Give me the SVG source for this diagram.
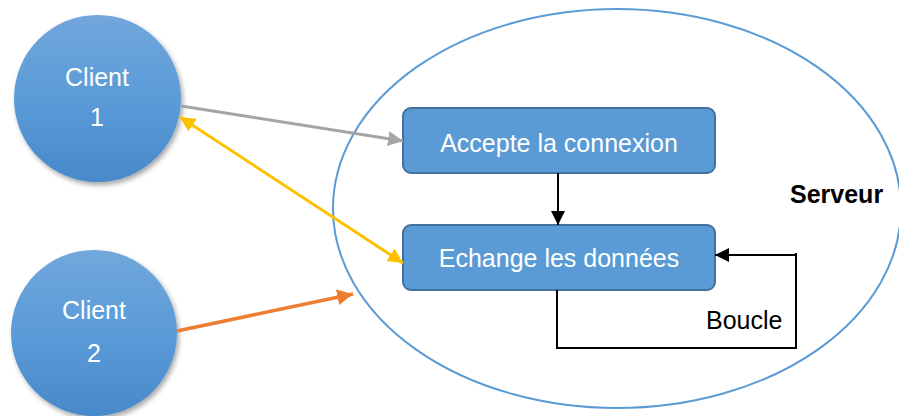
<svg xmlns="http://www.w3.org/2000/svg" width="899" height="416" viewBox="0 0 899 416">
  <style>
    text { font-family: "Liberation Sans", Arial, sans-serif; font-size: 25px; }
    .wt { fill: #ffffff; text-anchor: middle; }
    .bk { fill: #000000; }
    .client { fill: url(#cg); filter: url(#sh); }
    .box { fill: #5B9BD5; stroke: #41719C; stroke-width: 2; }
    .blk { fill: none; stroke: #000000; stroke-width: 2; }
  </style>
  <defs>
    <linearGradient id="cg" x1="0" y1="0" x2="0" y2="1">
      <stop offset="0" stop-color="#71A7DC"/>
      <stop offset="0.5" stop-color="#5B9BD8"/>
      <stop offset="1" stop-color="#4889C9"/>
    </linearGradient>
    <filter id="sh" x="-20%" y="-20%" width="140%" height="140%">
      <feDropShadow dx="2" dy="3" stdDeviation="2.5" flood-color="#000000" flood-opacity="0.35"/>
    </filter>
    <marker id="agray" viewBox="0 0 10 10" refX="10" refY="5" markerWidth="5" markerHeight="5" orient="auto" markerUnits="strokeWidth">
      <path d="M0,0 L10,5 L0,10 z" fill="#A5A5A5"/>
    </marker>
    <marker id="ayel" viewBox="0 0 10 10" refX="10" refY="5" markerWidth="5" markerHeight="5" orient="auto-start-reverse" markerUnits="strokeWidth">
      <path d="M0,0 L10,5 L0,10 z" fill="#FFC000"/>
    </marker>
    <marker id="aor" viewBox="0 0 10 10" refX="10" refY="5" markerWidth="4.5" markerHeight="4.5" orient="auto" markerUnits="strokeWidth">
      <path d="M0,0 L10,5 L0,10 z" fill="#ED7D31"/>
    </marker>
    <marker id="ablk" viewBox="0 0 10 10" refX="10" refY="5" markerWidth="8" markerHeight="7" orient="auto" markerUnits="strokeWidth">
      <path d="M0,0 L10,5 L0,10 z" fill="#000000"/>
    </marker>
  </defs>

  <g id="serveur">
    <ellipse cx="617" cy="208.5" rx="284" ry="199.5" fill="none" stroke="#5B9BD5" stroke-width="2"/>
    <text x="790" y="203" class="bk" font-weight="bold">Serveur</text>
  </g>

  <g id="client1">
    <circle cx="97.5" cy="98.5" r="83.5" class="client"/>
    <text x="97" y="86" class="wt">Client</text>
    <text x="97" y="126" class="wt">1</text>
  </g>

  <g id="client2">
    <circle cx="94" cy="333" r="83" class="client"/>
    <text x="94" y="319" class="wt">Client</text>
    <text x="94" y="362" class="wt">2</text>
  </g>

  <g id="accepte">
    <rect x="403" y="108" width="312" height="65" rx="8" class="box"/>
    <text x="559" y="152" class="wt">Accepte la connexion</text>
  </g>

  <g id="echange">
    <rect x="403" y="225" width="312" height="65" rx="8" class="box"/>
    <text x="559" y="267" class="wt">Echange les données</text>
  </g>

  <g id="connectors">
    <line x1="181" y1="106" x2="403" y2="141" stroke="#A5A5A5" stroke-width="3" marker-end="url(#agray)"/>
    <line x1="180" y1="117" x2="403" y2="263" stroke="#FFC000" stroke-width="3" marker-start="url(#ayel)" marker-end="url(#ayel)"/>
    <line x1="177" y1="331" x2="353" y2="294" stroke="#ED7D31" stroke-width="3.5" marker-end="url(#aor)"/>
    <line x1="558" y1="173" x2="558" y2="225" class="blk" marker-end="url(#ablk)"/>
    <polyline points="557,290 557,348 796,348 796,253" class="blk"/>
    <line x1="797" y1="255" x2="715" y2="255" class="blk" marker-end="url(#ablk)"/>
    <text x="706" y="329" class="bk">Boucle</text>
  </g>
</svg>
